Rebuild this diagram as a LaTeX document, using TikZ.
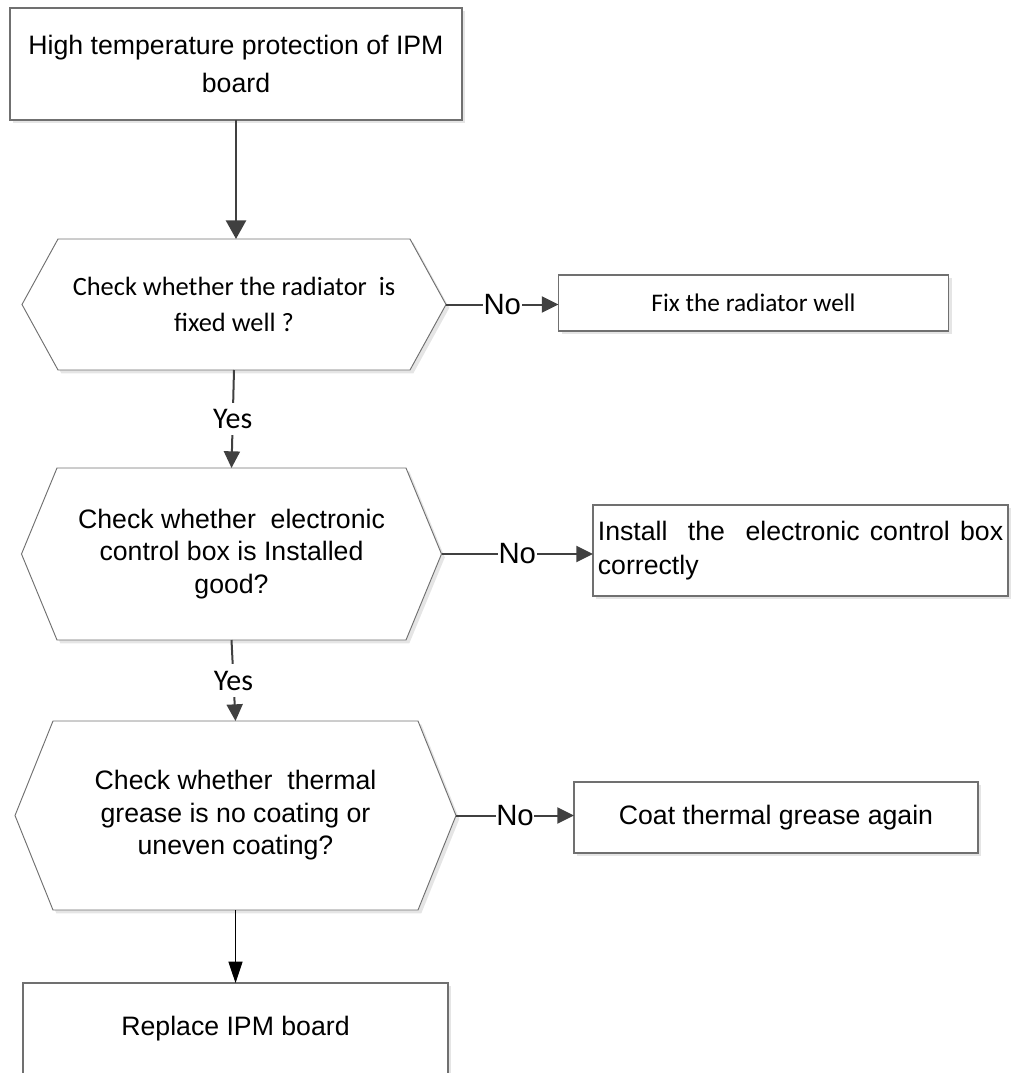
\documentclass[tikz,border=0pt]{standalone}
\usepackage{fontspec}
\setmainfont{Liberation Sans}
\newfontfamily\calfont{Carlito}
\usetikzlibrary{arrows.meta,shadows,calc}
\definecolor{edgegray}{HTML}{707070}
\definecolor{arrgray}{HTML}{404040}
\newcommand{\hexdraw}[2]{%
  \draw[hexs] (#1.north west) -- (#1.north east) -- ($(#1.east)+(#2,0)$) -- (#1.south east)
    -- (#1.south west) -- ($(#1.west)+(-#2,0)$) -- cycle;
  \coordinate (#1e) at ($(#1.east)+(#2,0)$);}
\begin{document}
\begin{tikzpicture}[x=0.75pt,y=-0.75pt,
  shad/.style={drop shadow={shadow xshift=2.5pt,shadow yshift=-2.5pt,fill=black!10,opacity=1}},
  box/.style={draw=edgegray,line width=0.8pt,fill=white,shad,inner sep=2pt,outer sep=0pt,align=center},
  hexs/.style={draw=edgegray,line width=0.7pt,fill=white,shad},
  htext/.style={inner sep=0pt,outer sep=0pt,align=center},
  arr/.style={draw=arrgray,line width=1.5pt,-{Triangle[length=12.5pt,width=12pt]}},
  arrbig/.style={draw=arrgray,line width=2pt,-{Triangle[length=14pt,width=15pt]}},
  arrblack/.style={draw=black,line width=0.7pt,-{Triangle[length=16pt,width=10.5pt]}},
  nolbl/.style={fill=white,inner xsep=0.5pt,inner ysep=1pt,font=\fontsize{22pt}{26pt}\selectfont},
  yeslbl/.style={fill=white,inner xsep=1pt,inner ysep=5pt,font=\calfont\fontsize{22.5pt}{26pt}\selectfont}
]
\useasboundingbox (0,0) rectangle (1010,1073);

% Hexagon text holders (invisible rectangles between the corners)
\node[htext,minimum width=264pt,minimum height=98.25pt] (h1) at (234,304.5) {};
\node[htext,minimum width=261.75pt,minimum height=129pt] (h2) at (231.5,554) {};
\node[htext,minimum width=273.75pt,minimum height=141.75pt] (h3) at (235.5,815.5) {};
\hexdraw{h1}{36}
\hexdraw{h2}{35.5}
\hexdraw{h3}{38}
\node[htext,font=\calfont\fontsize{19.8pt}{27pt}\selectfont] at (h1.center) {Check whether the radiator\ \ is\\fixed well ?};
\node[htext,font=\fontsize{20pt}{24.4pt}\selectfont] at (h2.center) {Check whether\ \ electronic\\control box is Installed\\good?};
\node[htext,font=\fontsize{20pt}{24.4pt}\selectfont] at (h3.center) {Check whether\ \ thermal\\grease is no coating or\\uneven coating?};

% Boxes
\node[box,minimum width=339pt,minimum height=84pt,font=\fontsize{20pt}{28.5pt}\selectfont] (b1) at (236,64) {High temperature protection of IPM\\board};
\node[box,minimum width=292.5pt,minimum height=42pt,font=\calfont\fontsize{19pt}{23pt}\selectfont] (fix) at (753.5,303) {Fix the radiator well};
\node[box,minimum width=311.25pt,minimum height=68.25pt,text width=304pt,align=justify,font=\fontsize{20pt}{25.5pt}\selectfont] (inst) at (800.5,550.5) {Install\ \ the\ \ electronic control box correctly};
\node[box,minimum width=303pt,minimum height=53.25pt,font=\fontsize{20pt}{24pt}\selectfont] (coat) at (776,817.5) {Coat thermal grease again};
\node[box,minimum width=318.75pt,minimum height=69pt,font=\fontsize{20pt}{24pt}\selectfont] (b4) at (235.5,1029) {Replace IPM board};

% Connectors
\draw[arrbig] (b1.south) -- (b1.south |- h1.north);
\draw[arr] (h1e) -- node[nolbl]{No} (h1e -| fix.west);
\draw[arr] (h2e) -- node[nolbl]{No} (h2e -| inst.west);
\draw[arr] (h3e) -- node[nolbl]{No} (h3e -| coat.west);
\draw[arr] (h1.south) -- node[yeslbl]{Yes} (h2.north);
\draw[arr] (h2.south) -- node[yeslbl]{Yes} (h3.north);
\draw[arrblack] (h3.south) -- (b4.north);
\end{tikzpicture}
\end{document}
